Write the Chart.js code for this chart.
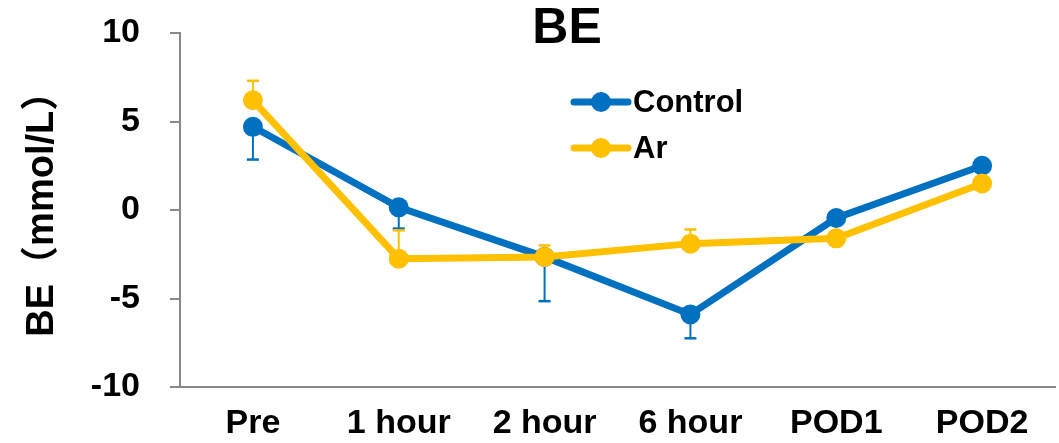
<!DOCTYPE html>
<html>
<head>
<meta charset="utf-8">
<script src="https://cdn.jsdelivr.net/npm/chart.js@4.4.1/dist/chart.umd.min.js"></script>
<style>
  html, body { margin: 0; padding: 0; background: #ffffff; }
  canvas { display: block; }
</style>
</head>
<body>
<canvas id="chart" width="1059" height="443"></canvas>
<script>
// Base excess over the perioperative course (mean with one-sided SD)
const categories = ['Pre', '1 hour', '2 hour', '6 hour', 'POD1', 'POD2'];
const controlMean = [4.7, 0.15, -2.65, -5.9, -0.45, 2.5];
const controlSD   = [1.85, 1.2, 2.5, 1.35, 0.3, 0.3];
const arMean      = [6.2, -2.75, -2.65, -1.9, -1.6, 1.5];
const arSD        = [1.1, 1.6, 0.65, 0.8, 0.3, 0.3];
const yTicks      = [-10, -5, 0, 5, 10];
const seriesNames = ['Control', 'Ar'];
const chartTitle  = 'BE';
const yTitle      = ' BE（mmol/L）';

const BLUE = '#0070C0';
const GOLD = '#FFC000';
const AXIS = '#898989';
const FONT = "'Liberation Sans', Arial, 'Noto Sans CJK JP', sans-serif";

// Whiskers: Control drawn downward, Ar drawn upward, behind the markers
const errorBars = {
  id: 'errorBars',
  beforeDatasetsDraw(chart) {
    const { ctx, scales: { x, y } } = chart;
    ctx.save();
    chart.data.datasets.forEach((ds, di) => {
      if (!chart.isDatasetVisible(di)) return;
      ctx.strokeStyle = ds.borderColor;
      ds.data.forEach((v, i) => {
        const px = x.getPixelForValue(i);
        const p0 = y.getPixelForValue(v);
        const p1 = y.getPixelForValue(v + ds.errDir * ds.errValues[i]);
        ctx.lineWidth = 2;
        ctx.beginPath();
        ctx.moveTo(px, p0);
        ctx.lineTo(px, p1);
        ctx.stroke();
        ctx.lineWidth = 2.5;
        ctx.beginPath();
        ctx.moveTo(px - 6, p1);
        ctx.lineTo(px + 6, p1);
        ctx.stroke();
      });
    });
    ctx.restore();
  }
};

// Title and in-plot legend
const annotations = {
  id: 'annotations',
  afterDraw(chart) {
    const { ctx } = chart;
    ctx.save();
    ctx.fillStyle = '#000';
    ctx.font = `bold 50px ${FONT}`;
    ctx.textAlign = 'center';
    ctx.textBaseline = 'middle';
    ctx.fillText(chartTitle, 567, 29);

    const rows = [
      { ds: chart.data.datasets[0], y: 102 },
      { ds: chart.data.datasets[1], y: 148 }
    ];
    rows.forEach(r => {
      ctx.strokeStyle = r.ds.borderColor;
      ctx.lineWidth = 7;
      ctx.lineCap = 'round';
      ctx.beginPath();
      ctx.moveTo(574, r.y);
      ctx.lineTo(628, r.y);
      ctx.stroke();
      ctx.fillStyle = r.ds.borderColor;
      ctx.beginPath();
      ctx.arc(601, r.y, 10, 0, Math.PI * 2);
      ctx.fill();
      ctx.fillStyle = '#000';
      ctx.font = `bold 31px ${FONT}`;
      ctx.textAlign = 'left';
      ctx.textBaseline = 'middle';
      ctx.fillText(r.ds.label, 633, r.y + 1);
    });
    ctx.restore();
  }
};

new Chart(document.getElementById('chart'), {
  type: 'line',
  data: {
    labels: categories,
    datasets: [
      {
        label: seriesNames[0],
        data: controlMean,
        errValues: controlSD,
        errDir: -1,
        borderColor: BLUE,
        backgroundColor: BLUE,
        pointBackgroundColor: BLUE,
        pointBorderColor: BLUE,
        borderWidth: 7,
        pointRadius: 10,
        pointBorderWidth: 0,
        tension: 0,
        clip: false,
        order: 1
      },
      {
        label: seriesNames[1],
        data: arMean,
        errValues: arSD,
        errDir: 1,
        borderColor: GOLD,
        backgroundColor: GOLD,
        pointBackgroundColor: GOLD,
        pointBorderColor: GOLD,
        borderWidth: 7,
        pointRadius: 10,
        pointBorderWidth: 0,
        tension: 0,
        clip: false,
        order: 0
      }
    ]
  },
  options: {
    responsive: false,
    animation: false,
    devicePixelRatio: 1,
    layout: {
      autoPadding: false,
      padding: { top: 33, right: 4, bottom: 0, left: 0 }
    },
    plugins: {
      legend: { display: false },
      tooltip: { enabled: false },
      title: { display: false }
    },
    scales: {
      x: {
        type: 'category',
        offset: true,
        grid: { display: false, drawTicks: false, offset: true },
        border: { display: true, color: AXIS, width: 2 },
        ticks: {
          color: '#000',
          font: { family: FONT, size: 34, weight: 'bold' },
          padding: 16,
          maxRotation: 0,
          autoSkip: false
        },
        afterFit(scale) {
          scale.height = 56;
          scale.paddingLeft = 0;
          scale.paddingRight = 0;
        }
      },
      y: {
        min: yTicks[0],
        max: yTicks[yTicks.length - 1],
        ticks: {
          stepSize: yTicks[1] - yTicks[0],
          color: '#000',
          font: { family: FONT, size: 34, weight: 'bold' },
          padding: 30
        },
        grid: {
          display: true,
          drawOnChartArea: false,
          drawTicks: true,
          tickLength: 10,
          color: AXIS,
          lineWidth: 2
        },
        border: { display: true, color: AXIS, width: 2 },
        title: {
          display: true,
          text: yTitle,
          color: '#000',
          font: { family: FONT, size: 38, weight: 'bold' },
          padding: { top: 20, bottom: 0 }
        },
        afterFit(scale) {
          scale.width = 180;
          scale.paddingTop = 0;
          scale.paddingBottom = 0;
        }
      }
    }
  },
  plugins: [errorBars, annotations]
});
</script>
</body>
</html>
